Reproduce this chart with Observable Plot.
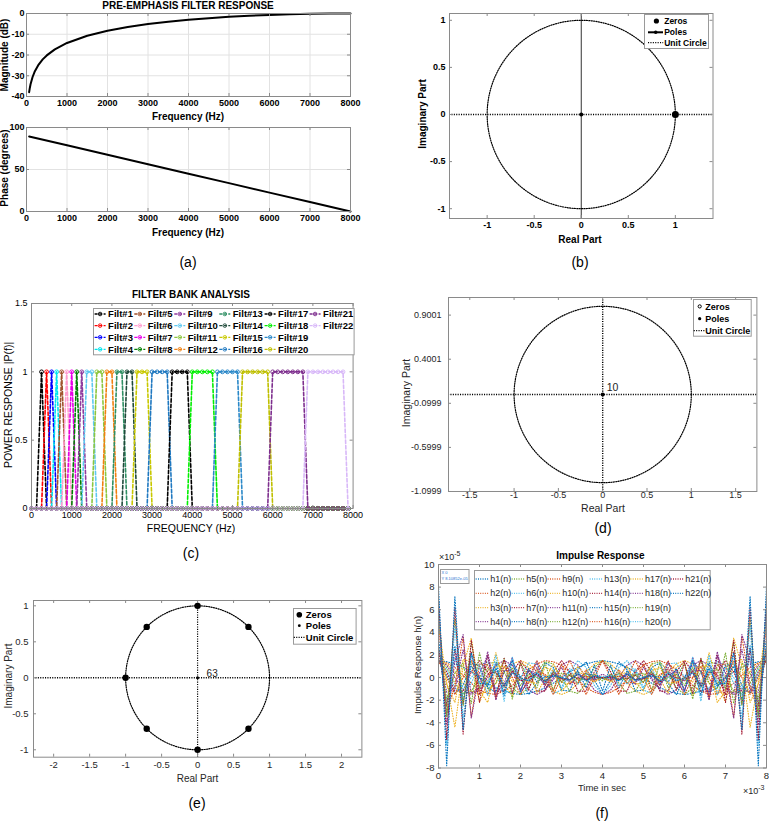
<!DOCTYPE html>
<html><head><meta charset="utf-8">
<script src="https://cdn.jsdelivr.net/npm/d3@7"></script>
<script src="https://cdn.jsdelivr.net/npm/@observablehq/plot@0.6"></script>
<style>
body{margin:0;background:#fff;}
#page{position:relative;width:769px;height:821px;overflow:hidden;background:#fff;}
</style></head><body><div id="page"></div>
<script>
// ---------------- DATA ----------------
// (a) pre-emphasis filter response
const magFreq = [65,80,100,150,200,300,400,500,700,1000,1500,2000,2500,3000,3500,4000,4500,5000,5500,6000,6500,7000,7500,8000];
const magDb   = [-37.9,-36.1,-34.1,-30.6,-28.1,-24.6,-22.1,-20.2,-17.3,-14.2,-10.7,-8.3,-6.5,-5.1,-3.95,-3.0,-2.24,-1.6,-1.09,-0.69,-0.38,-0.17,-0.04,0];
const phaseFreq = [65,1000,2000,3000,4000,5000,6000,7000,8000];
const phaseDeg  = [89.3,78.8,67.5,56.3,45,33.8,22.5,11.3,0];
const freqTicks = [0,1000,2000,3000,4000,5000,6000,7000,8000];
const magTicks = [-40,-30,-20,-10,0];
const phaseTicks = [0,50,100];

// (b) pole-zero of pre-emphasis
const zerosB_re = [1], zerosB_im = [0];
const polesB_re = [0], polesB_im = [0];
const pzTicks = [-1,-0.5,0,0.5,1];

// (c) filter bank: plateau of each filter (Hz) on a 125 Hz bin grid
const filtNames = d3.range(1,23).map(i => "Filt#" + i);
const filtLo = [250,375,500,625,750,875,1000,1125,1250,1375,1625,1875,2125,2375,2625,3000,3500,4000,4625,5250,6000,6875];
const filtHi = [250,375,500,625,750,875,1000,1125,1250,1500,1750,2000,2250,2500,2875,3375,3875,4500,5125,5875,6750,7750];
const binStep = 125, binCount = 64;
const filtColors = ["#000000","#ff0000","#0000ff","#00e5ee","#a0522d","#ff9ccf","#e600e6","#008000","#8e3a9e","#5ec8f0",
  "#8cc63f","#f08010","#2f8f63","#1f4a3a","#c8c800","#1f78c0","#000000","#00ee00","#2a88c8","#bfbf00","#7e2f8e","#d8b8f8"];
const powTicks = [0,0.5,1,1.5];

// (d) pole-zero
const polesD_re = [0], polesD_im = [0], polesD_mult = ["10"];
const dTicksX = [-1.5,-1,-0.5,0,0.5,1,1.5];
const dTicksY = [-1.0999,-0.5999,-0.0999,0.4001,0.9001];

// (e) pole-zero
const zerosE_re = [0,0.707,-0.707,-1,-0.707,0,0.707];
const zerosE_im = [1,0.707,0.707,0,-0.707,-1,-0.707];
const polesE_re = [0], polesE_im = [0], polesE_mult = ["63"];
const eTicksX = [-2,-1.5,-1,-0.5,0,0.5,1,1.5,2];

// (f) impulse responses (units: 1e-5), sampled every 0.2 ms (units: 1e-3 s)
const tGrid = d3.range(41).map(i => +(i*0.2).toFixed(1));
const h1 = [1.5,1.4,1.2,0.9,0.5,0,-0.5,-0.9,-1.2,-1.4,-1.5,-1.4,-1.2,-0.9,-0.5,0,0.5,0.9,1.2,1.4,1.5,1.4,1.2,0.9,0.5,0,-0.5,-0.9,-1.2,-1.4,-1.5,-1.4,-1.2,-0.9,-0.5,0,0.5,0.9,1.2,1.4,1.5];
const h2 = [1.5,1.3,0.9,0.2,-0.5,-1.1,-1.4,-1.5,-1.2,-0.7,0,0.7,1.2,1.5,1.4,1.1,0.5,-0.2,-0.9,-1.3,-1.5,-1.3,-0.9,-0.2,0.5,1.1,1.4,1.5,1.2,0.7,0,-0.7,-1.2,-1.5,-1.4,-1.1,-0.5,0.2,0.9,1.3,1.5];
const h3 = [1.5,1.2,0.5,-0.5,-1.2,-1.5,-1.2,-0.5,0.5,1.2,1.5,1.2,0.5,-0.5,-1.2,-1.5,-1.2,-0.5,0.5,1.2,1.5,1.2,0.5,-0.5,-1.2,-1.5,-1.2,-0.5,0.5,1.2,1.5,1.2,0.5,-0.5,-1.2,-1.5,-1.2,-0.5,0.5,1.2,1.5];
const h4 = [1.5,1.1,0,-1.1,-1.5,-1.1,0,1.1,1.5,1.1,0,-1.1,-1.5,-1.1,0,1.1,1.5,1.1,0,-1.1,-1.5,-1.1,0,1.1,1.5,1.1,0,-1.1,-1.5,-1.1,0,1.1,1.5,1.1,0,-1.1,-1.5,-1.1,0,1.1,1.5];
const h5 = [1.5,0.9,-0.5,-1.4,-1.2,0,1.2,1.4,0.5,-0.9,-1.5,-0.9,0.5,1.4,1.2,0,-1.2,-1.4,-0.5,0.9,1.5,0.9,-0.5,-1.4,-1.2,0,1.2,1.4,0.5,-0.9,-1.5,-0.9,0.5,1.4,1.2,0,-1.2,-1.4,-0.5,0.9,1.5];
const h6 = [1.5,0.7,-0.9,-1.5,-0.5,1.1,1.4,0.2,-1.2,-1.3,0,1.3,1.2,-0.2,-1.4,-1.1,0.5,1.5,0.9,-0.7,-1.5,-0.7,0.9,1.5,0.5,-1.1,-1.4,-0.2,1.2,1.3,0,-1.3,-1.2,0.2,1.4,1.1,-0.5,-1.5,-0.9,0.7,1.5];
const h7 = [1.5,0.5,-1.2,-1.2,0.5,1.5,0.5,-1.2,-1.2,0.5,1.5,0.5,-1.2,-1.2,0.5,1.5,0.5,-1.2,-1.2,0.5,1.5,0.5,-1.2,-1.2,0.5,1.5,0.5,-1.2,-1.2,0.5,1.5,0.5,-1.2,-1.2,0.5,1.5,0.5,-1.2,-1.2,0.5,1.5];
const h8 = [1.5,0.2,-1.4,-0.7,1.2,1.1,-0.9,-1.3,0.5,1.5,0,-1.5,-0.5,1.3,0.9,-1.1,-1.2,0.7,1.4,-0.2,-1.5,-0.2,1.4,0.7,-1.2,-1.1,0.9,1.3,-0.5,-1.5,0,1.5,0.5,-1.3,-0.9,1.1,1.2,-0.7,-1.4,0.2,1.5];
const h9 = [1.5,0,-1.5,0,1.5,0,-1.5,0,1.5,0,-1.5,0,1.5,0,-1.5,0,1.5,0,-1.5,0,1.5,0,-1.5,0,1.5,0,-1.5,0,1.5,0,-1.5,0,1.5,0,-1.5,0,1.5,0,-1.5,0,1.5];
const h10 = [2.6,-0.6,-2.2,1.6,1.4,-2.2,-0.4,2.2,-0.6,-1.6,1.3,0.9,-1.4,-0.1,1.2,-0.4,-0.6,0.5,0.2,-0.2,0,-0.2,0.2,0.5,-0.6,-0.4,1.2,-0.1,-1.4,0.9,1.3,-1.6,-0.6,2.2,-0.4,-2.2,1.4,1.6,-2.2,-0.6,2.6];
const h11 = [2.6,-1.3,-1.1,2.5,-1.4,-0.9,2.3,-1.4,-0.6,1.8,-1.3,-0.4,1.4,-1.0,-0.2,0.9,-0.6,0,0.4,-0.2,0,-0.2,0.4,0,-0.6,0.9,-0.2,-1.0,1.4,-0.4,-1.3,1.8,-0.6,-1.4,2.3,-0.9,-1.4,2.5,-1.1,-1.3,2.6];
const h12 = [2.6,-1.9,0.4,1.3,-2.3,2.2,-1.0,-0.5,1.7,-1.9,1.3,-0.1,-0.9,1.3,-1.1,0.4,0.2,-0.5,0.4,-0.1,0,-0.1,0.4,-0.5,0.2,0.4,-1.1,1.3,-0.9,-0.1,1.3,-1.9,1.7,-0.5,-1.0,2.2,-2.3,1.3,0.4,-1.9,2.6];
const h13 = [2.6,-2.3,1.8,-1.0,0,0.9,-1.6,2.0,-2.1,1.8,-1.3,0.7,0,-0.5,0.8,-0.9,0.8,-0.6,0.3,-0.1,0,-0.1,0.3,-0.6,0.8,-0.9,0.8,-0.5,0,0.7,-1.3,1.8,-2.1,2.0,-1.6,0.9,0,-1.0,1.8,-2.3,2.6];
const h14 = [2.6,-2.5,2.5,-2.4,2.3,-2.2,2.0,-1.9,1.7,-1.4,1.3,-1.1,0.9,-0.7,0.5,-0.4,0.2,-0.1,0.1,0,0,0,0.1,-0.1,0.2,-0.4,0.5,-0.7,0.9,-1.1,1.3,-1.4,1.7,-1.9,2.0,-2.2,2.3,-2.4,2.5,-2.5,2.6];
const h15 = [3.6,-3.4,2.8,-2.0,1.0,0,-0.8,1.3,-1.6,1.5,-1.2,0.8,-0.4,0.1,0.1,0,-0.2,0.6,-0.9,1.1,-1.2,1.1,-0.9,0.6,-0.2,0,0.1,0.1,-0.4,0.8,-1.2,1.5,-1.6,1.3,-0.8,0,1.0,-2.0,2.8,-3.4,3.6];
const h16 = [4.8,-3.1,-0.7,3.6,-3.5,1.2,1.1,-1.8,1.0,0,0,-0.5,0.5,0.3,-1.2,1.2,-0.4,-0.5,0.7,-0.3,0,-0.3,0.7,-0.5,-0.4,1.2,-1.2,0.3,0.5,-0.5,0,0,1.0,-1.8,1.1,1.2,-3.5,3.6,-0.7,-3.1,4.8];
const h17 = [4.8,-0.4,-4.4,1.0,3.5,-1.2,-2.2,1.0,1.0,-0.4,0,-0.4,-0.5,0.9,0.6,-1.2,-0.4,1.0,0.1,-0.4,0,-0.4,0.1,1.0,-0.4,-1.2,0.6,0.9,-0.5,-0.4,0,-0.4,1.0,1.0,-2.2,-1.2,3.5,1.0,-4.4,-0.4,4.8];
const h18 = [5.8,-4.2,1.5,3.8,-3.6,0.4,1.9,-2.0,0.6,0.7,-1.1,0.6,0.2,-0.6,0.5,-0.1,-0.3,0.4,-0.2,-0.1,0.3,-0.1,-0.2,0.4,-0.3,-0.1,0.5,-0.6,0.2,0.6,-1.1,0.7,0.6,-2.0,1.9,0.4,-3.6,3.8,1.5,-4.2,5.8];
const h19 = [6.0,-3.5,5.2,-2.5,3.1,-1.0,0.8,0.4,-0.9,0.9,-0.7,0.3,0,-0.3,0.5,-0.4,0.3,-0.1,-0.2,0.3,-0.3,0.3,-0.2,-0.1,0.3,-0.4,0.5,-0.3,0,0.3,-0.7,0.9,-0.9,0.4,0.8,-1.0,3.1,-2.5,5.2,-3.5,6.0];
const h20 = [6.5,-6.0,4.6,-3.6,2.0,-0.6,-0.3,0.8,-0.9,0.6,-0.2,-0.2,0.5,-0.5,0.3,0,-0.3,0.4,-0.3,0.1,0.1,0.1,-0.3,0.4,-0.3,0,0.3,-0.5,0.5,-0.2,-0.2,0.6,-0.9,0.8,-0.3,-0.6,2.0,-3.6,4.6,-6.0,6.5];
const h21 = [7.0,-5.5,6.2,-5.0,3.3,-1.5,0.3,0.5,-0.8,0.6,-0.3,0,0.3,-0.4,0.3,-0.1,-0.2,0.3,-0.2,0.1,0,0.1,-0.2,0.3,-0.2,-0.1,0.3,-0.4,0.3,0,-0.3,0.6,-0.8,0.5,0.3,-1.5,3.3,-5.0,6.2,-5.5,7.0];
const h22 = [8.1,-7.8,7.2,-4.6,2.2,-0.5,-0.6,0.8,-0.7,0.4,0,-0.3,0.4,-0.3,0.2,0,-0.2,0.3,-0.3,0.2,-0.1,0.2,-0.3,0.3,-0.2,0,0.2,-0.3,0.4,-0.3,0,0.4,-0.7,0.8,-0.6,-0.5,2.2,-4.6,7.2,-7.8,8.1];
const hSeries = [h1,h2,h3,h4,h5,h6,h7,h8,h9,h10,h11,h12,h13,h14,h15,h16,h17,h18,h19,h20,h21,h22];
const hNames = d3.range(1,23).map(i => "h" + i + "(n)");
const impColors = ["#0072BD","#D95319","#EDB120","#7E2F8E","#77AC30","#4DBEEE","#A2142F"];
const timeTicks = [0,1,2,3,4,5,6,7,8];
const impTicks = [-8,-6,-4,-2,0,2,4,6,8,10];

// ---------------- HELPERS ----------------
const FONT = '"Liberation Sans", Arial, Helvetica, sans-serif';
const page = document.getElementById("page");

function txt(s, x, y, o = {}) {
  const d = document.createElement("div");
  if (o.html) d.innerHTML = s; else d.textContent = s;
  Object.assign(d.style, {position:"absolute", left:x+"px", top:y+"px", whiteSpace:"nowrap",
    fontFamily:FONT, fontSize:(o.size||10)+"px", fontWeight:o.weight||"normal", color:o.color||"#000", lineHeight:"1"});
  const ax = o.anchor === "start" ? "0" : o.anchor === "end" ? "-100%" : "-50%";
  d.style.transform = `translate(${ax},-50%)` + (o.rotate ? ` rotate(${o.rotate}deg)` : "");
  page.appendChild(d);
  return d;
}

function panel(o) {
  const {x0, x1, y0, y1} = o;
  const W = x1 - x0, H = y1 - y0;
  const mL = 50, mR = 20, mT = 20, mB = 30;
  const fc = o.frameColor || "#8a8a8a";
  const tl = 3;
  const fmt = d => String(d);
  const marks = [];
  if (o.grid) {
    marks.push(Plot.gridX(o.xTicks, {stroke:"#e2e2e2", strokeOpacity:1}));
    marks.push(Plot.gridY(o.yTicks, {stroke:"#e2e2e2", strokeOpacity:1}));
  }
  marks.push(...o.marks);
  marks.push(Plot.frame({stroke: fc}));
  marks.push(Plot.tickX(o.xTicks, {x: d => d, stroke: fc, insetTop: H - tl}));
  marks.push(Plot.tickX(o.xTicks, {x: d => d, stroke: fc, insetBottom: H - tl}));
  marks.push(Plot.tickY(o.yTicks, {y: d => d, stroke: fc, insetRight: W - tl}));
  marks.push(Plot.tickY(o.yTicks, {y: d => d, stroke: fc, insetLeft: W - tl}));
  marks.push(Plot.axisX(o.xTicks, {anchor:"bottom", tickSize:0, tickPadding:o.xPad ?? 3, tickFormat: fmt, label:null, fill:o.tickColor || "#000"}));
  marks.push(Plot.axisY(o.yTicks, {anchor:"left", tickSize:0, tickPadding:o.yPad ?? 4, tickFormat: fmt, label:null, fill:o.tickColor || "#000"}));
  const svg = Plot.plot({
    width: W + mL + mR, height: H + mT + mB,
    marginLeft: mL, marginRight: mR, marginTop: mT, marginBottom: mB,
    x: {domain: o.xDomain}, y: {domain: o.yDomain},
    style: {fontFamily: FONT, fontSize: (o.tickSize || 9) + "px", fontWeight: o.bold ? "bold" : "normal", background: "none", overflow: "visible", color: "#000"},
    marks
  });
  svg.style.position = "absolute";
  svg.style.left = (x0 - mL) + "px";
  svg.style.top = (y0 - mT) + "px";
  page.appendChild(svg);
}

function overlay(x, y, w, h) {
  const svg = d3.create("svg").attr("width", w + 2).attr("height", h + 2)
    .style("position", "absolute").style("left", x + "px").style("top", y + "px")
    .style("overflow", "visible").style("font-family", FONT);
  svg.append("rect").attr("x", 0.5).attr("y", 0.5).attr("width", w).attr("height", h)
    .attr("fill", "#fff").attr("stroke", "#9a9a9a");
  page.appendChild(svg.node());
  return svg.append("g").attr("transform", `translate(${-x},${-y})`);
}

const circlePts = d3.range(0, 361, 2).map(a => ({x: Math.cos(a * Math.PI / 180), y: Math.sin(a * Math.PI / 180)}));
const DOT = "1.1,1.3";

// ---------------- (a) ----------------
panel({x0:26, x1:350, y0:13, y1:96, xDomain:[0,8000], yDomain:[-40,0], xTicks:freqTicks, yTicks:magTicks, grid:true, bold:true, tickSize:9, yPad:2,
  marks:[Plot.line(magFreq.map((f,i)=>({f, v:magDb[i]})), {x:"f", y:"v", stroke:"#000", strokeWidth:2})]});
panel({x0:26, x1:350, y0:127, y1:211, xDomain:[0,8000], yDomain:[0,100], xTicks:freqTicks, yTicks:phaseTicks, grid:true, bold:true, tickSize:9, yPad:2,
  marks:[Plot.line(phaseFreq.map((f,i)=>({f, v:phaseDeg[i]})), {x:"f", y:"v", stroke:"#000", strokeWidth:2})]});
txt("PRE-EMPHASIS FILTER RESPONSE", 188, 6, {size:10, weight:"bold"});
txt("Frequency (Hz)", 188, 117, {size:10, weight:"bold"});
txt("Frequency (Hz)", 188, 233, {size:10, weight:"bold"});
txt("Magnitude (dB)", 4.5, 55, {size:10, weight:"bold", rotate:-90});
txt("Phase (degrees)", 4.5, 168, {size:10, weight:"bold", rotate:-90});
txt("(a)", 188, 262, {size:14});

// ---------------- (b) ----------------
panel({x0:448.5, x1:712, y0:13.3, y1:218.3, xDomain:[-1.4,1.4], yDomain:[-1.104,1.072], xTicks:pzTicks, yTicks:pzTicks, bold:true, tickSize:9,
  marks:[
    Plot.ruleY([0], {stroke:"#000", strokeWidth:1.5, strokeDasharray:DOT}),
    Plot.ruleX([0], {stroke:"#333", strokeWidth:1}),
    Plot.line(circlePts, {x:"x", y:"y", stroke:"#000", strokeWidth:1.2, strokeDasharray:DOT}),
    Plot.dot(polesB_re.map((r,i)=>({r, i:polesB_im[i]})), {x:"r", y:"i", r:2, fill:"#000"}),
    Plot.dot(zerosB_re.map((r,i)=>({r, i:zerosB_im[i]})), {x:"r", y:"i", r:3.5, fill:"#000"})
  ]});
txt("Imaginary Part", 423, 114, {size:10, weight:"bold", rotate:-90});
txt("Real Part", 580, 240, {size:10, weight:"bold"});
txt("(b)", 580, 262, {size:14});
{
  const g = overlay(644.3, 14, 64, 34);
  g.append("circle").attr("cx", 656.7).attr("cy", 21).attr("r", 2.6).attr("fill", "#000");
  g.append("line").attr("x1", 648.3).attr("x2", 663.3).attr("y1", 32.3).attr("y2", 32.3).attr("stroke", "#000").attr("stroke-width", 2);
  g.append("circle").attr("cx", 656).attr("cy", 32.3).attr("r", 1.8).attr("fill", "#000");
  g.append("line").attr("x1", 648.3).attr("x2", 663.5).attr("y1", 42.7).attr("y2", 42.7).attr("stroke", "#000").attr("stroke-width", 1.2).attr("stroke-dasharray", DOT);
  [["Zeros",21],["Poles",32.3],["Unit Circle",42.7]].forEach(([s,y]) =>
    g.append("text").attr("x", 664.5).attr("y", y).attr("dy", "0.35em").attr("font-size", 8.5).attr("font-weight", "bold").text(s));
}

// ---------------- (c) ----------------
{
  const marks = [];
  filtLo.forEach((lo, k) => {
    const hi = filtHi[k];
    const pts = d3.range(binCount).map(b => ({f: b * binStep, v: (b * binStep >= lo && b * binStep <= hi) ? 1 : 0}));
    marks.push(Plot.line(pts, {x:"f", y:"v", stroke:filtColors[k], strokeWidth:1.6, strokeDasharray:"3.5,2"}));
    marks.push(Plot.dot(pts, {x:"f", y:"v", r:1.9, stroke:filtColors[k], strokeWidth:1, fill:"none"}));
  });
  panel({x0:30.7, x1:352.3, y0:303, y1:508, xDomain:[0,8000], yDomain:[0,1.5], xTicks:freqTicks, yTicks:powTicks, tickSize:9, marks});
}
txt("FILTER BANK ANALYSIS", 191, 295, {size:10, weight:"bold"});
txt("FREQUENCY (Hz)", 191, 528, {size:10.5});
txt("POWER RESPONSE |P(f)|", 8, 405, {size:10.5, rotate:-90});
txt("(c)", 191, 553, {size:14});
{
  const g = overlay(92.7, 307.7, 260.6, 46.3);
  const colX = [94.3, 134, 174, 219, 264.3, 309.3];
  const rowY = [313.7, 325.3, 337, 349];
  filtNames.forEach((name, i) => {
    const sx = colX[Math.floor(i / 4)], sy = rowY[i % 4];
    g.append("line").attr("x1", sx).attr("x2", sx + 11).attr("y1", sy).attr("y2", sy).attr("stroke", filtColors[i]).attr("stroke-width", 1.3).attr("stroke-dasharray", "3,1.5");
    g.append("circle").attr("cx", sx + 5.5).attr("cy", sy).attr("r", 1.8).attr("fill", "none").attr("stroke", filtColors[i]).attr("stroke-width", 0.9);
    g.append("text").attr("x", sx + 13.5).attr("y", sy).attr("dy", "0.35em").attr("font-size", 9.5).attr("font-weight", "bold").text(name);
  });
}

// ---------------- (d) ----------------
panel({x0:448.3, x1:756.7, y0:296.7, y1:490.7, xDomain:[-1.74,1.74], yDomain:[-1.0999,1.0999], xTicks:dTicksX, yTicks:dTicksY, tickSize:9, tickColor:"#262626", xPad:0, yPad:7,
  marks:[
    Plot.ruleY([0], {stroke:"#000", strokeWidth:1.7, strokeDasharray:DOT}),
    Plot.ruleX([0], {stroke:"#000", strokeWidth:1.4, strokeDasharray:DOT}),
    Plot.line(circlePts, {x:"x", y:"y", stroke:"#000", strokeWidth:1.2, strokeDasharray:DOT}),
    Plot.dot(polesD_re.map((r,i)=>({r, i:polesD_im[i]})), {x:"r", y:"i", r:2, fill:"#000"}),
    Plot.text(polesD_re.map((r,i)=>({r, i:polesD_im[i], m:polesD_mult[i]})), {x:"r", y:"i", text:"m", dx:4, dy:-7, textAnchor:"start", fontSize:10.5, fill:"#222"})
  ]});
txt("Imaginary Part", 406, 393, {size:10.5, rotate:-90, color:"#262626"});
txt("Real Part", 603, 508, {size:10.5, color:"#262626"});
txt("(d)", 603, 528, {size:14});
{
  const g = overlay(693.3, 299.3, 57.7, 36.7);
  g.append("circle").attr("cx", 700).attr("cy", 306.7).attr("r", 1.6).attr("fill", "none").attr("stroke", "#000");
  g.append("circle").attr("cx", 700).attr("cy", 319).attr("r", 1.6).attr("fill", "#000");
  g.append("line").attr("x1", 694).attr("x2", 705).attr("y1", 331).attr("y2", 331).attr("stroke", "#000").attr("stroke-width", 1.2).attr("stroke-dasharray", DOT);
  [["Zeros",306.7],["Poles",319],["Unit Circle",331]].forEach(([s,y]) =>
    g.append("text").attr("x", 705.5).attr("y", y).attr("dy", "0.35em").attr("font-size", 9).attr("font-weight", "bold").text(s));
}

// ---------------- (e) ----------------
panel({x0:33.3, x1:361.7, y0:600, y1:756.7, xDomain:[-2.28,2.283], yDomain:[-1.103,1.074], xTicks:eTicksX, yTicks:pzTicks, tickSize:9.5, tickColor:"#262626", xPad:4, yPad:5,
  marks:[
    Plot.ruleY([0], {stroke:"#000", strokeWidth:1.5, strokeDasharray:DOT}),
    Plot.ruleX([0], {stroke:"#000", strokeWidth:1.2, strokeDasharray:DOT}),
    Plot.line(circlePts, {x:"x", y:"y", stroke:"#000", strokeWidth:1.2, strokeDasharray:DOT}),
    Plot.dot(polesE_re.map((r,i)=>({r, i:polesE_im[i]})), {x:"r", y:"i", r:1.5, fill:"#000"}),
    Plot.dot(zerosE_re.map((r,i)=>({r, i:zerosE_im[i]})), {x:"r", y:"i", r:3.2, fill:"#000"}),
    Plot.text(polesE_re.map((r,i)=>({r, i:polesE_im[i], m:polesE_mult[i]})), {x:"r", y:"i", text:"m", dx:9, dy:-4, textAnchor:"start", fontSize:10, fill:"#222"})
  ]});
txt("Imaginary Part", 8.5, 676, {size:10, rotate:-90, color:"#262626"});
txt("Real Part", 197.5, 778.5, {size:10, color:"#262626"});
txt("(e)", 197, 803, {size:14});
{
  const g = overlay(292.7, 608.3, 62.6, 35.7);
  g.append("circle").attr("cx", 299).attr("cy", 615).attr("r", 2.8).attr("fill", "#000");
  g.append("circle").attr("cx", 299).attr("cy", 626).attr("r", 1.4).attr("fill", "#000");
  g.append("line").attr("x1", 293.5).attr("x2", 305).attr("y1", 637.7).attr("y2", 637.7).attr("stroke", "#000").attr("stroke-width", 1.2).attr("stroke-dasharray", DOT);
  [["Zeros",615],["Poles",626],["Unit Circle",637.7]].forEach(([s,y]) =>
    g.append("text").attr("x", 305.5).attr("y", y).attr("dy", "0.35em").attr("font-size", 9.5).attr("font-weight", "bold").text(s));
}

// ---------------- (f) ----------------
{
  const marks = hSeries.map((vals, k) => Plot.line(vals.map((v, i) => ({t: tGrid[i], v})),
    {x:"t", y:"v", stroke: impColors[k % 7], strokeWidth:1.1, strokeDasharray:"0.8,1.8"}));
  panel({x0:438, x1:766, y0:563.5, y1:767, xDomain:[0,8], yDomain:[-8,10], xTicks:timeTicks, yTicks:impTicks, tickSize:9.5, tickColor:"#262626", xPad:4, yPad:4, marks});
}
txt("Impulse Response", 600.5, 556, {size:10, weight:"bold"});
txt("×10<sup style='font-size:7px;vertical-align:4px'>-5</sup>", 439, 556, {size:9, anchor:"start", html:true, color:"#262626"});
txt("×10<sup style='font-size:7px;vertical-align:4px'>-3</sup>", 743, 790, {size:9, anchor:"start", html:true, color:"#262626"});
txt("Time in sec", 602, 788, {size:9.5, color:"#262626"});
txt("Impulse Response h(n)", 418, 665, {size:9.5, rotate:-90, color:"#262626"});
txt("(f)", 602, 813, {size:14});
{
  const g = overlay(474.3, 570, 235.7, 59.3);
  const colX = [476, 512, 548, 590, 630.7, 671];
  const rowY = [579, 593.3, 607.7, 621.7];
  hNames.forEach((name, i) => {
    const sx = colX[Math.floor(i / 4)], sy = rowY[i % 4];
    g.append("line").attr("x1", sx).attr("x2", sx + 13).attr("y1", sy).attr("y2", sy).attr("stroke", impColors[i % 7]).attr("stroke-width", 1.3).attr("stroke-dasharray", "0.9,1.4");
    g.append("text").attr("x", sx + 14.5).attr("y", sy).attr("dy", "0.35em").attr("font-size", 9).attr("fill", "#262626").text(name);
  });
  const tip = overlay(439.5, 569, 28.5, 14);
  tip.append("text").attr("x", 441).attr("y", 573.5).attr("font-size", 4).attr("fill", "#1f6fd0").text("X 0");
  tip.append("text").attr("x", 441).attr("y", 579.5).attr("font-size", 4).attr("fill", "#1f6fd0").text("Y 8.10852e-05");
}
</script></body></html>
